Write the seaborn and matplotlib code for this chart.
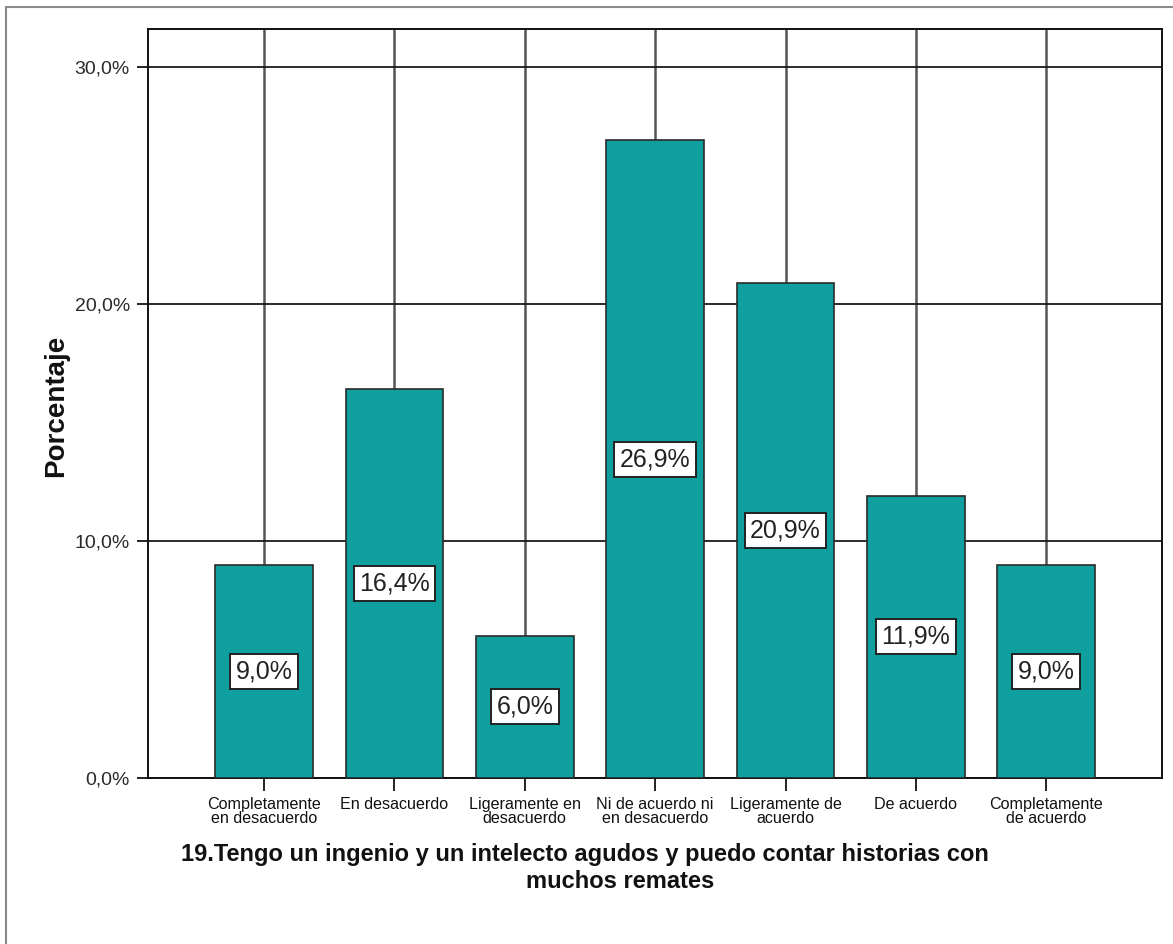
import matplotlib
matplotlib.use("Agg")
import matplotlib.pyplot as plt
import seaborn as sns
import pandas as pd
from matplotlib.lines import Line2D

categories = ["Completamente\nen desacuerdo", "En desacuerdo", "Ligeramente en\ndesacuerdo",
              "Ni de acuerdo ni\nen desacuerdo", "Ligeramente de\nacuerdo", "De acuerdo",
              "Completamente\nde acuerdo"]
values = [9.0, 16.4, 6.0, 26.9, 20.9, 11.9, 9.0]
yticks = [0, 10, 20, 30]
ylabel = "Porcentaje"
title_lines = ["19.Tengo un ingenio y un intelecto agudos y puedo contar historias con",
               "muchos remates"]

sns.set_theme(style="white")
plt.rcParams['font.family'] = ['Liberation Sans', 'DejaVu Sans']

W, H = 1173, 944
fig = plt.figure(figsize=(W / 100, H / 100), dpi=100)
ax = fig.add_axes([148 / W, (H - 778) / H, (1162 - 148) / W, (778 - 29) / H])

df = pd.DataFrame({"cat": categories, "val": values})
sns.barplot(data=df, x="cat", y="val", color="#0f9f9f", saturation=1, width=0.75,
            edgecolor="#2a2a2a", linewidth=1.2, ax=ax, zorder=3)

ax.set_xlim(-0.89, 6.887)
ax.set_ylim(0, 31.6)
ax.set_yticks(yticks)
ax.set_yticklabels([f"{v:.1f}%".replace(".", ",") for v in yticks])
ax.set_xlabel("")
ax.set_ylabel("")

ax.set_axisbelow(True)
ax.grid(axis="y", color="#1a1a1a", linewidth=1.3, zorder=0)
ax.grid(axis="x", color="#555555", linewidth=1.8, zorder=0)

for s in ax.spines.values():
    s.set_color("#111111")
    s.set_linewidth(1.4)
    s.set_visible(True)

ax.tick_params(axis="y", which="both", left=True, length=8, width=1.4, color="#222222",
               pad=5, labelsize=14, labelcolor="#2a2a2a")
ax.tick_params(axis="x", which="both", bottom=True, length=9, width=1.4, color="#222222",
               pad=5, labelsize=11.6, labelcolor="#111111")
for lab in ax.get_xticklabels():
    lab.set_linespacing(0.88)

for p, v in zip(ax.patches, values):
    x = p.get_x() + p.get_width() / 2
    ax.text(x, v / 2, f"{v:.1f}%".replace(".", ","), ha="center", va="center",
            fontsize=18, color="#222222", zorder=5,
            bbox=dict(boxstyle="square,pad=0.22", facecolor="white",
                      edgecolor="#222222", linewidth=1.4))

fig.text(56 / W, 1 - 406 / H, ylabel, rotation=90, ha="center", va="center",
         fontsize=20, fontweight="bold", color="#111111")
fig.text(584.5 / W, 1 - 854 / H, title_lines[0], ha="center", va="center",
         fontsize=17, fontweight="bold", color="#111111")
fig.text(620 / W, 1 - 882 / H, title_lines[1], ha="center", va="center",
         fontsize=17, fontweight="bold", color="#111111")

# figure border
fig.add_artist(Line2D([6 / W, 6 / W], [0, 1 - 7 / H], transform=fig.transFigure,
                      color="#8a8a8a", linewidth=1.5))
fig.add_artist(Line2D([6 / W, 1], [1 - 7 / H, 1 - 7 / H], transform=fig.transFigure,
                      color="#8a8a8a", linewidth=1.5))

fig.savefig("out.png", dpi=100, facecolor="white")
